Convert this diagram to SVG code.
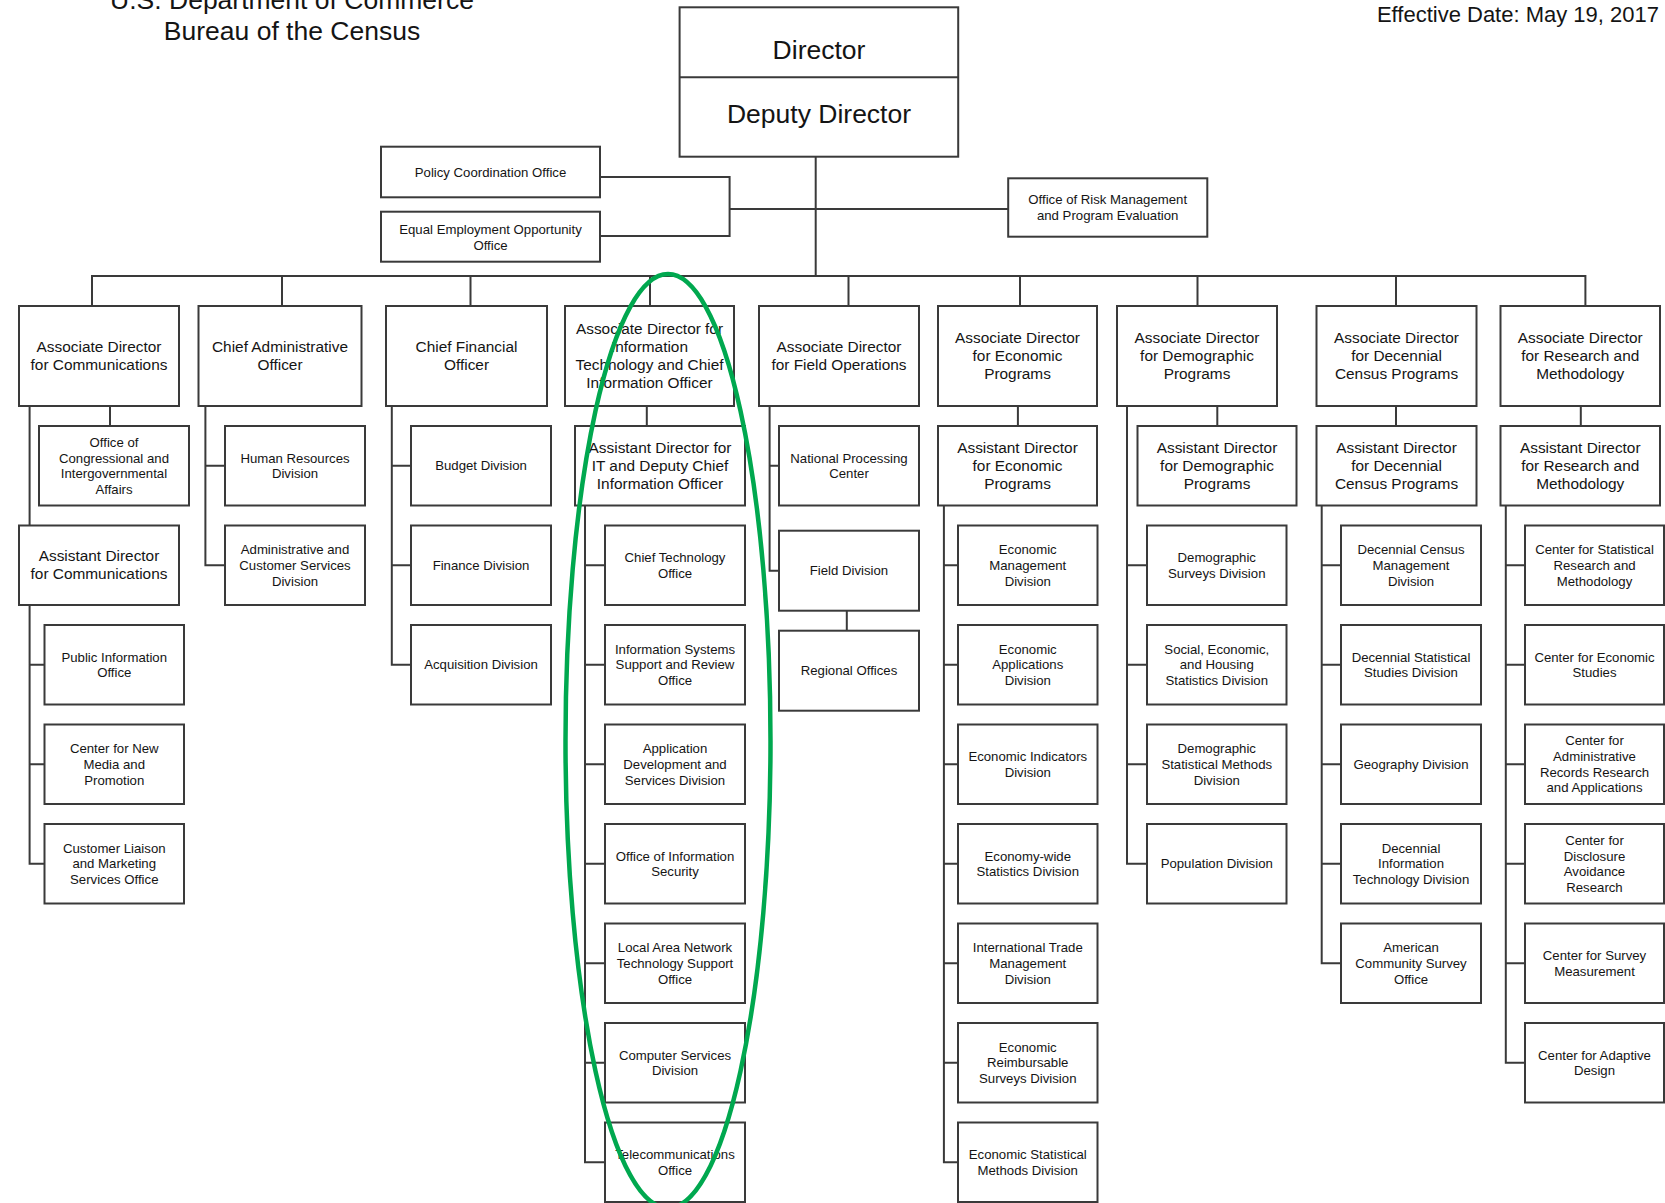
<svg xmlns="http://www.w3.org/2000/svg" width="1665" height="1203" viewBox="0 0 1665 1203">
<style>
.bg{fill:#fff}
.box{fill:#fff;stroke:#3a3a3a;stroke-width:2}
.ln{fill:none;stroke:#3a3a3a;stroke-width:2}
text{font-family:"Liberation Sans",Arial,sans-serif;fill:#141414;text-anchor:middle}
.s{font-size:13.2px}
.l{font-size:15.4px}
.h{font-size:26.5px}
.d{font-size:22px;text-anchor:end}
.oval{fill:none;stroke:#00a84f;stroke-width:4.5}
</style>
<rect class="bg" x="0" y="0" width="1665" height="1203"/>

<g id="title">
<text class="h" x="292" y="8.5">U.S. Department of Commerce</text>
<text class="h" x="292" y="39.5">Bureau of the Census</text>
</g>
<g id="effective-date"><text class="d" x="1659" y="22">Effective Date: May 19, 2017</text></g>

<g id="connectors">
<path class="ln" d="M815.7,156.7V276"/>
<path class="ln" d="M600,177H729.6V236H600M729.6,209H1008.2"/>
<path class="ln" d="M92,306V276H1585.4V306M282,276V306M470.5,276V306M650,276V306M848.5,276V306M1020,276V306M1197.5,276V306M1396,276V306"/>
<!-- col1 -->
<path class="ln" d="M110,406V426M29.6,406V525.5M29.6,605V863.75H44.5M29.6,664.75H44.5M29.6,764.25H44.5"/>
<!-- col2 -->
<path class="ln" d="M205.4,406V565.25H225M205.4,465.75H225"/>
<!-- col3 -->
<path class="ln" d="M391.8,406V664.75H411M391.8,465.75H411M391.8,565.25H411"/>
<!-- col4 -->
<path class="ln" d="M646.8,406V426M585,505.5V1162.25H605M585,565.25H605M585,664.75H605M585,764.25H605M585,863.75H605M585,963.25H605M585,1062.75H605"/>
<!-- col5 -->
<path class="ln" d="M769.6,406V570.7H779M769.6,465.75H779M846.8,610.7V630.7"/>
<!-- col6 -->
<path class="ln" d="M1017.9,406V426M943.9,505.5V1162.25H958M943.9,565.25H958M943.9,664.75H958M943.9,764.25H958M943.9,863.75H958M943.9,963.25H958M943.9,1062.75H958"/>
<!-- col7 -->
<path class="ln" d="M1217.3,406V426M1127,406V863.75H1147M1127,565.25H1147M1127,664.75H1147M1127,764.25H1147"/>
<!-- col8 -->
<path class="ln" d="M1396,406V426M1321.7,505.5V963.25H1341M1321.7,565.25H1341M1321.7,664.75H1341M1321.7,764.25H1341M1321.7,863.75H1341"/>
<!-- col9 -->
<path class="ln" d="M1580.8,406V426M1505.8,505.5V1062.75H1525M1505.8,565.25H1525M1505.8,664.75H1525M1505.8,764.25H1525M1505.8,863.75H1525M1505.8,963.25H1525"/>
</g>

<g id="director">
<rect class="box" x="679.6" y="7.3" width="278.6" height="149.4"/>
<path class="ln" d="M679.6,77.3H958.2"/>
<text class="h" x="819" y="59.3">Director</text>
<text class="h" x="819" y="122.7">Deputy Director</text>
</g>

<g id="policy-coordination"><rect class="box" x="381" y="146.7" width="219" height="50.6"/><text class="s" x="490.5" y="176.6">Policy Coordination Office</text></g>
<g id="eeo"><rect class="box" x="381" y="211.7" width="219" height="50"/><text class="s"><tspan x="490.5" y="234">Equal Employment Opportunity</tspan><tspan x="490.5" y="249.5">Office</tspan></text></g>
<g id="risk-management"><rect class="box" x="1008.2" y="178.3" width="199.1" height="58.4"/><text class="s"><tspan x="1107.7" y="204">Office of Risk Management</tspan><tspan x="1107.7" y="219.6">and Program Evaluation</tspan></text></g>

<!-- top level -->
<g id="ad-communications"><rect class="box" x="19" y="306" width="160" height="100"/><text class="l"><tspan x="99" y="352.2">Associate Director</tspan><tspan x="99" y="370.2">for Communications</tspan></text></g>
<g id="cao"><rect class="box" x="198.5" y="306" width="163" height="100"/><text class="l"><tspan x="280" y="352.2">Chief Administrative</tspan><tspan x="280" y="370.2">Officer</tspan></text></g>
<g id="cfo"><rect class="box" x="386" y="306" width="161" height="100"/><text class="l"><tspan x="466.5" y="352.2">Chief Financial</tspan><tspan x="466.5" y="370.2">Officer</tspan></text></g>
<g id="ad-it"><rect class="box" x="565" y="306" width="169" height="100"/><text class="l"><tspan x="649.5" y="334.2">Associate Director for</tspan><tspan x="649.5" y="352.2">Information</tspan><tspan x="649.5" y="370.2">Technology and Chief</tspan><tspan x="649.5" y="388.2">Information Officer</tspan></text></g>
<g id="ad-field"><rect class="box" x="759" y="306" width="160" height="100"/><text class="l"><tspan x="839" y="352.2">Associate Director</tspan><tspan x="839" y="370.2">for Field Operations</tspan></text></g>
<g id="ad-economic"><rect class="box" x="938" y="306" width="159" height="100"/><text class="l"><tspan x="1017.5" y="343.2">Associate Director</tspan><tspan x="1017.5" y="361.2">for Economic</tspan><tspan x="1017.5" y="379.2">Programs</tspan></text></g>
<g id="ad-demographic"><rect class="box" x="1117" y="306" width="160" height="100"/><text class="l"><tspan x="1197" y="343.2">Associate Director</tspan><tspan x="1197" y="361.2">for Demographic</tspan><tspan x="1197" y="379.2">Programs</tspan></text></g>
<g id="ad-decennial"><rect class="box" x="1316.5" y="306" width="160" height="100"/><text class="l"><tspan x="1396.5" y="343.2">Associate Director</tspan><tspan x="1396.5" y="361.2">for Decennial</tspan><tspan x="1396.5" y="379.2">Census Programs</tspan></text></g>
<g id="ad-research"><rect class="box" x="1500.5" y="306" width="159.5" height="100"/><text class="l"><tspan x="1580.25" y="343.2">Associate Director</tspan><tspan x="1580.25" y="361.2">for Research and</tspan><tspan x="1580.25" y="379.2">Methodology</tspan></text></g>

<!-- column 1 -->
<g id="congressional"><rect class="box" x="39" y="426" width="150" height="79.5"/><text class="s"><tspan x="114" y="446.8">Office of</tspan><tspan x="114" y="462.5">Congressional and</tspan><tspan x="114" y="478.2">Intergovernmental</tspan><tspan x="114" y="493.9">Affairs</tspan></text></g>
<g id="asst-communications"><rect class="box" x="19" y="525.5" width="160" height="79.5"/><text class="l"><tspan x="99" y="561.45">Assistant Director</tspan><tspan x="99" y="579.45">for Communications</tspan></text></g>
<g id="public-information"><rect class="box" x="44.5" y="625" width="139.5" height="79.5"/><text class="s"><tspan x="114.25" y="661.5">Public Information</tspan><tspan x="114.25" y="677.2">Office</tspan></text></g>
<g id="new-media"><rect class="box" x="44.5" y="724.5" width="139.5" height="79.5"/><text class="s"><tspan x="114.25" y="753.15">Center for New</tspan><tspan x="114.25" y="768.85">Media and</tspan><tspan x="114.25" y="784.55">Promotion</tspan></text></g>
<g id="customer-liaison"><rect class="box" x="44.5" y="824" width="139.5" height="79.5"/><text class="s"><tspan x="114.25" y="852.65">Customer Liaison</tspan><tspan x="114.25" y="868.35">and Marketing</tspan><tspan x="114.25" y="884.05">Services Office</tspan></text></g>

<!-- column 2 -->
<g id="human-resources"><rect class="box" x="225" y="426" width="140" height="79.5"/><text class="s"><tspan x="295" y="462.5">Human Resources</tspan><tspan x="295" y="478.2">Division</tspan></text></g>
<g id="admin-customer"><rect class="box" x="225" y="525.5" width="140" height="79.5"/><text class="s"><tspan x="295" y="554.15">Administrative and</tspan><tspan x="295" y="569.85">Customer Services</tspan><tspan x="295" y="585.55">Division</tspan></text></g>

<!-- column 3 -->
<g id="budget"><rect class="box" x="411" y="426" width="140" height="79.5"/><text class="s" x="481" y="470.35">Budget Division</text></g>
<g id="finance"><rect class="box" x="411" y="525.5" width="140" height="79.5"/><text class="s" x="481" y="569.85">Finance Division</text></g>
<g id="acquisition"><rect class="box" x="411" y="625" width="140" height="79.5"/><text class="s" x="481" y="669.35">Acquisition Division</text></g>

<!-- column 4 -->
<g id="asst-it"><rect class="box" x="575" y="426" width="170" height="79.5"/><text class="l"><tspan x="660" y="452.95">Assistant Director for</tspan><tspan x="660" y="470.95">IT and Deputy Chief</tspan><tspan x="660" y="488.95">Information Officer</tspan></text></g>
<g id="chief-technology"><rect class="box" x="605" y="525.5" width="140" height="79.5"/><text class="s"><tspan x="675" y="562">Chief Technology</tspan><tspan x="675" y="577.7">Office</tspan></text></g>
<g id="info-systems"><rect class="box" x="605" y="625" width="140" height="79.5"/><text class="s"><tspan x="675" y="653.65">Information Systems</tspan><tspan x="675" y="669.35">Support and Review</tspan><tspan x="675" y="685.05">Office</tspan></text></g>
<g id="app-dev"><rect class="box" x="605" y="724.5" width="140" height="79.5"/><text class="s"><tspan x="675" y="753.15">Application</tspan><tspan x="675" y="768.85">Development and</tspan><tspan x="675" y="784.55">Services Division</tspan></text></g>
<g id="info-security"><rect class="box" x="605" y="824" width="140" height="79.5"/><text class="s"><tspan x="675" y="860.5">Office of Information</tspan><tspan x="675" y="876.2">Security</tspan></text></g>
<g id="lan"><rect class="box" x="605" y="923.5" width="140" height="79.5"/><text class="s"><tspan x="675" y="952.15">Local Area Network</tspan><tspan x="675" y="967.85">Technology Support</tspan><tspan x="675" y="983.55">Office</tspan></text></g>
<g id="computer-services"><rect class="box" x="605" y="1023" width="140" height="79.5"/><text class="s"><tspan x="675" y="1059.5">Computer Services</tspan><tspan x="675" y="1075.2">Division</tspan></text></g>
<g id="telecom"><rect class="box" x="605" y="1122.5" width="140" height="79.5"/><text class="s"><tspan x="675" y="1159">Telecommunications</tspan><tspan x="675" y="1174.7">Office</tspan></text></g>

<!-- column 5 -->
<g id="npc"><rect class="box" x="779" y="426" width="140" height="79.5"/><text class="s"><tspan x="849" y="462.5">National Processing</tspan><tspan x="849" y="478.2">Center</tspan></text></g>
<g id="field-division"><rect class="box" x="779" y="530.7" width="140" height="80"/><text class="s" x="849" y="575.3">Field Division</text></g>
<g id="regional-offices"><rect class="box" x="779" y="630.7" width="140" height="80"/><text class="s" x="849" y="675.3">Regional Offices</text></g>

<!-- column 6 -->
<g id="asst-economic"><rect class="box" x="938" y="426" width="159" height="79.5"/><text class="l"><tspan x="1017.5" y="452.95">Assistant Director</tspan><tspan x="1017.5" y="470.95">for Economic</tspan><tspan x="1017.5" y="488.95">Programs</tspan></text></g>
<g id="econ-management"><rect class="box" x="958" y="525.5" width="139.5" height="79.5"/><text class="s"><tspan x="1027.75" y="554.15">Economic</tspan><tspan x="1027.75" y="569.85">Management</tspan><tspan x="1027.75" y="585.55">Division</tspan></text></g>
<g id="econ-applications"><rect class="box" x="958" y="625" width="139.5" height="79.5"/><text class="s"><tspan x="1027.75" y="653.65">Economic</tspan><tspan x="1027.75" y="669.35">Applications</tspan><tspan x="1027.75" y="685.05">Division</tspan></text></g>
<g id="econ-indicators"><rect class="box" x="958" y="724.5" width="139.5" height="79.5"/><text class="s"><tspan x="1027.75" y="761">Economic Indicators</tspan><tspan x="1027.75" y="776.7">Division</tspan></text></g>
<g id="economy-wide"><rect class="box" x="958" y="824" width="139.5" height="79.5"/><text class="s"><tspan x="1027.75" y="860.5">Economy-wide</tspan><tspan x="1027.75" y="876.2">Statistics Division</tspan></text></g>
<g id="intl-trade"><rect class="box" x="958" y="923.5" width="139.5" height="79.5"/><text class="s"><tspan x="1027.75" y="952.15">International Trade</tspan><tspan x="1027.75" y="967.85">Management</tspan><tspan x="1027.75" y="983.55">Division</tspan></text></g>
<g id="econ-reimbursable"><rect class="box" x="958" y="1023" width="139.5" height="79.5"/><text class="s"><tspan x="1027.75" y="1051.65">Economic</tspan><tspan x="1027.75" y="1067.35">Reimbursable</tspan><tspan x="1027.75" y="1083.05">Surveys Division</tspan></text></g>
<g id="econ-stat-methods"><rect class="box" x="958" y="1122.5" width="139.5" height="79.5"/><text class="s"><tspan x="1027.75" y="1159">Economic Statistical</tspan><tspan x="1027.75" y="1174.7">Methods Division</tspan></text></g>

<!-- column 7 -->
<g id="asst-demographic"><rect class="box" x="1137.5" y="426" width="159" height="79.5"/><text class="l"><tspan x="1217" y="452.95">Assistant Director</tspan><tspan x="1217" y="470.95">for Demographic</tspan><tspan x="1217" y="488.95">Programs</tspan></text></g>
<g id="demo-surveys"><rect class="box" x="1147" y="525.5" width="139.5" height="79.5"/><text class="s"><tspan x="1216.75" y="562">Demographic</tspan><tspan x="1216.75" y="577.7">Surveys Division</tspan></text></g>
<g id="sehsd"><rect class="box" x="1147" y="625" width="139.5" height="79.5"/><text class="s"><tspan x="1216.75" y="653.65">Social, Economic,</tspan><tspan x="1216.75" y="669.35">and Housing</tspan><tspan x="1216.75" y="685.05">Statistics Division</tspan></text></g>
<g id="demo-stat-methods"><rect class="box" x="1147" y="724.5" width="139.5" height="79.5"/><text class="s"><tspan x="1216.75" y="753.15">Demographic</tspan><tspan x="1216.75" y="768.85">Statistical Methods</tspan><tspan x="1216.75" y="784.55">Division</tspan></text></g>
<g id="population"><rect class="box" x="1147" y="824" width="139.5" height="79.5"/><text class="s" x="1216.75" y="868.35">Population Division</text></g>

<!-- column 8 -->
<g id="asst-decennial"><rect class="box" x="1316.5" y="426" width="160" height="79.5"/><text class="l"><tspan x="1396.5" y="452.95">Assistant Director</tspan><tspan x="1396.5" y="470.95">for Decennial</tspan><tspan x="1396.5" y="488.95">Census Programs</tspan></text></g>
<g id="dec-census-mgmt"><rect class="box" x="1341" y="525.5" width="140" height="79.5"/><text class="s"><tspan x="1411" y="554.15">Decennial Census</tspan><tspan x="1411" y="569.85">Management</tspan><tspan x="1411" y="585.55">Division</tspan></text></g>
<g id="dec-stat-studies"><rect class="box" x="1341" y="625" width="140" height="79.5"/><text class="s"><tspan x="1411" y="661.5">Decennial Statistical</tspan><tspan x="1411" y="677.2">Studies Division</tspan></text></g>
<g id="geography"><rect class="box" x="1341" y="724.5" width="140" height="79.5"/><text class="s" x="1411" y="768.85">Geography Division</text></g>
<g id="dec-it"><rect class="box" x="1341" y="824" width="140" height="79.5"/><text class="s"><tspan x="1411" y="852.65">Decennial</tspan><tspan x="1411" y="868.35">Information</tspan><tspan x="1411" y="884.05">Technology Division</tspan></text></g>
<g id="acs"><rect class="box" x="1341" y="923.5" width="140" height="79.5"/><text class="s"><tspan x="1411" y="952.15">American</tspan><tspan x="1411" y="967.85">Community Survey</tspan><tspan x="1411" y="983.55">Office</tspan></text></g>

<!-- column 9 -->
<g id="asst-research"><rect class="box" x="1500.5" y="426" width="159.5" height="79.5"/><text class="l"><tspan x="1580.25" y="452.95">Assistant Director</tspan><tspan x="1580.25" y="470.95">for Research and</tspan><tspan x="1580.25" y="488.95">Methodology</tspan></text></g>
<g id="csrm"><rect class="box" x="1525" y="525.5" width="139" height="79.5"/><text class="s"><tspan x="1594.5" y="554.15">Center for Statistical</tspan><tspan x="1594.5" y="569.85">Research and</tspan><tspan x="1594.5" y="585.55">Methodology</tspan></text></g>
<g id="ces"><rect class="box" x="1525" y="625" width="139" height="79.5"/><text class="s"><tspan x="1594.5" y="661.5">Center for Economic</tspan><tspan x="1594.5" y="677.2">Studies</tspan></text></g>
<g id="carra"><rect class="box" x="1525" y="724.5" width="139" height="79.5"/><text class="s"><tspan x="1594.5" y="745.3">Center for</tspan><tspan x="1594.5" y="761">Administrative</tspan><tspan x="1594.5" y="776.7">Records Research</tspan><tspan x="1594.5" y="792.4">and Applications</tspan></text></g>
<g id="cdar"><rect class="box" x="1525" y="824" width="139" height="79.5"/><text class="s"><tspan x="1594.5" y="844.8">Center for</tspan><tspan x="1594.5" y="860.5">Disclosure</tspan><tspan x="1594.5" y="876.2">Avoidance</tspan><tspan x="1594.5" y="891.9">Research</tspan></text></g>
<g id="csm"><rect class="box" x="1525" y="923.5" width="139" height="79.5"/><text class="s"><tspan x="1594.5" y="960">Center for Survey</tspan><tspan x="1594.5" y="975.7">Measurement</tspan></text></g>
<g id="cad"><rect class="box" x="1525" y="1023" width="139" height="79.5"/><text class="s"><tspan x="1594.5" y="1059.5">Center for Adaptive</tspan><tspan x="1594.5" y="1075.2">Design</tspan></text></g>

<g id="highlight"><ellipse class="oval" cx="668" cy="741" rx="102.5" ry="467"/></g>
</svg>
